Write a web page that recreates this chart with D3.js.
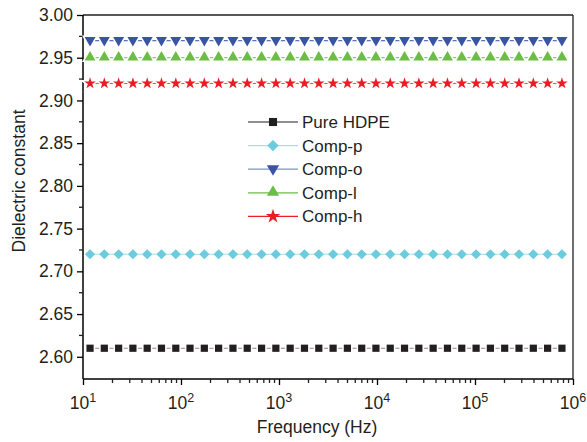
<!DOCTYPE html>
<html>
<head>
<meta charset="utf-8">
<script src="https://cdn.jsdelivr.net/npm/d3@7"></script>
<style>
  body { margin: 0; background: #fff; }
  text { font-family: "Liberation Sans", Arial, sans-serif; fill: #231f20; }
</style>
</head>
<body>
<svg id="chart" width="587" height="442"></svg>
<script>
// frequencies (Hz) of the measured points
let freq = [11.8, 16.5, 23.1, 32.3, 45.2, 63.2, 88.5, 123.6, 173, 242, 339, 474, 664, 929,
    1300, 1820, 2547, 3565, 4989, 6982, 9750, 13650, 19100, 26730, 37410, 52360, 73280,
    102600, 143500, 200900, 281200, 393600, 550800, 771000];

// dielectric constant for each sample (flat across frequency)
let hdpe  = [2.61, 2.61, 2.61, 2.61, 2.61, 2.61, 2.61, 2.61, 2.61, 2.61, 2.61, 2.61, 2.61, 2.61, 2.61, 2.61, 2.61,
             2.61, 2.61, 2.61, 2.61, 2.61, 2.61, 2.61, 2.61, 2.61, 2.61, 2.61, 2.61, 2.61, 2.61, 2.61, 2.61, 2.61];
let compP = [2.72, 2.72, 2.72, 2.72, 2.72, 2.72, 2.72, 2.72, 2.72, 2.72, 2.72, 2.72, 2.72, 2.72, 2.72, 2.72, 2.72,
             2.72, 2.72, 2.72, 2.72, 2.72, 2.72, 2.72, 2.72, 2.72, 2.72, 2.72, 2.72, 2.72, 2.72, 2.72, 2.72, 2.72];
let compO = [2.97, 2.97, 2.97, 2.97, 2.97, 2.97, 2.97, 2.97, 2.97, 2.97, 2.97, 2.97, 2.97, 2.97, 2.97, 2.97, 2.97,
             2.97, 2.97, 2.97, 2.97, 2.97, 2.97, 2.97, 2.97, 2.97, 2.97, 2.97, 2.97, 2.97, 2.97, 2.97, 2.97, 2.97];
let compL = [2.95, 2.95, 2.95, 2.95, 2.95, 2.95, 2.95, 2.95, 2.95, 2.95, 2.95, 2.95, 2.95, 2.95, 2.95, 2.95, 2.95,
             2.95, 2.95, 2.95, 2.95, 2.95, 2.95, 2.95, 2.95, 2.95, 2.95, 2.95, 2.95, 2.95, 2.95, 2.95, 2.95, 2.95];
let compH = [2.92, 2.92, 2.92, 2.92, 2.92, 2.92, 2.92, 2.92, 2.92, 2.92, 2.92, 2.92, 2.92, 2.92, 2.92, 2.92, 2.92,
             2.92, 2.92, 2.92, 2.92, 2.92, 2.92, 2.92, 2.92, 2.92, 2.92, 2.92, 2.92, 2.92, 2.92, 2.92, 2.92, 2.92];

let names = ["Pure HDPE", "Comp-p", "Comp-o", "Comp-l", "Comp-h"];
let yTicks = [2.60, 2.65, 2.70, 2.75, 2.80, 2.85, 2.90, 2.95, 3.00];
let yMinor = [2.625, 2.675, 2.725, 2.775, 2.825, 2.875, 2.925, 2.975];
let xTicks = [1e1, 1e2, 1e3, 1e4, 1e5, 1e6];

// styles per series: marker colour, plot line colour, legend line colour
let series = [
    {name: names[0], vals: hdpe,  fill: "#231f20", line: "#8a8a8a", legLine: "#231f20", shape: "square", gap: true},
    {name: names[1], vals: compP, fill: "#6ccbdc", line: "#a6dee9", legLine: "#a6dee9", shape: "diamond", gap: false},
    {name: names[2], vals: compO, fill: "#3a54a4", line: "#5b70b5", legLine: "#7f90c8", shape: "down", gap: true},
    {name: names[3], vals: compL, fill: "#6cbd45", line: "#85c766", legLine: "#6cbd45", shape: "up", gap: true},
    {name: names[4], vals: compH, fill: "#ed1c24", line: "#ef4a4f", legLine: "#ed1c24", shape: "star", gap: true}
];

let margin = {top: 15, right: 14, bottom: 63, left: 83};
let W = 587, H = 442;
let svg = d3.select("#chart");

let x = d3.scaleLog().domain([10, 1e6]).range([margin.left, W - margin.right]);
let y = d3.scaleLinear().domain([2.574, 3.0]).range([H - margin.bottom, margin.top]);

function symbolPath(shape) {
    if (shape == "square") return d3.symbol(d3.symbolSquare, 52)();
    if (shape == "diamond") return d3.symbol(d3.symbolSquare, 52)();
    if (shape == "up" || shape == "down") return d3.symbol(d3.symbolTriangle, 52)();
    return d3.symbol(d3.symbolStar, 42)();
}
function symbolTransform(shape, px, py) {
    if (shape == "diamond") return "translate(" + px + "," + py + ") rotate(45)";
    if (shape == "down") return "translate(" + px + "," + (py - 0.5) + ") rotate(180)";
    if (shape == "up") return "translate(" + px + "," + (py - 0.5) + ")";
    return "translate(" + px + "," + py + ")";
}

// frame (top and right)
svg.append("line").attr("x1", margin.left).attr("x2", W - margin.right)
    .attr("y1", margin.top).attr("y2", margin.top).attr("stroke", "#231f20").attr("stroke-width", 1.3);
svg.append("line").attr("x1", W - margin.right).attr("x2", W - margin.right)
    .attr("y1", margin.top).attr("y2", H - margin.bottom).attr("stroke", "#231f20").attr("stroke-width", 1.3);

// y axis
let yAxis = svg.append("g").attr("transform", "translate(" + margin.left + ",0)")
    .call(d3.axisLeft(y).tickValues(yTicks).tickFormat(d3.format(".2f")).tickSize(6).tickPadding(4));
yAxis.select(".domain").attr("stroke-width", 1.5).attr("d", "M0," + margin.top + "V" + (H - margin.bottom));
yAxis.selectAll(".tick line").attr("stroke-width", 1.3);
yAxis.selectAll(".tick text").style("font-size", "17.5px").style("font-family", "Liberation Sans, Arial, sans-serif").attr("fill", "#231f20");
yAxis.selectAll(".minor").data(yMinor).enter().append("line")
    .attr("x1", 0).attr("x2", -4).attr("y1", d => y(d)).attr("y2", d => y(d))
    .attr("stroke", "#231f20").attr("stroke-width", 1.3);

// x axis
let xMinor = [];
for (let e = 1; e < 6; e++) for (let k = 2; k < 10; k++) xMinor.push(k * Math.pow(10, e));
let xAxis = svg.append("g").attr("transform", "translate(0," + (H - margin.bottom) + ")")
    .call(d3.axisBottom(x).tickValues(xTicks).tickFormat("").tickSize(6));
xAxis.select(".domain").attr("stroke-width", 1.5).attr("d", "M" + margin.left + ",0H" + (W - margin.right));
xAxis.selectAll(".tick line").attr("stroke-width", 1.3);
xAxis.selectAll(".minor").data(xMinor).enter().append("line")
    .attr("x1", d => x(d)).attr("x2", d => x(d)).attr("y1", 0).attr("y2", 4)
    .attr("stroke", "#231f20").attr("stroke-width", 1.3);
let xLab = xAxis.selectAll(".xl").data(xTicks).enter().append("text")
    .attr("x", d => x(d)).attr("y", 30).attr("text-anchor", "middle")
    .style("font-size", "17.5px");
xLab.append("tspan").text("10");
xLab.append("tspan").text(d => Math.round(Math.log10(d))).attr("dy", -7).style("font-size", "12.5px");

// axis titles
svg.append("text").attr("x", 317).attr("y", 433).attr("text-anchor", "middle")
    .style("font-size", "17.5px").text("Frequency (Hz)");
svg.append("text").attr("transform", "translate(25,181) rotate(-90)").attr("text-anchor", "middle")
    .style("font-size", "17.5px").text("Dielectric constant");

// series
let line = d3.line().x((d, i) => x(freq[i])).y(d => y(d));
series.forEach(s => {
    let g = svg.append("g");
    g.append("path").attr("d", line(s.vals)).attr("fill", "none")
        .attr("stroke", s.line).attr("stroke-width", 1.2);
    g.selectAll("path.m").data(s.vals).enter().append("path")
        .attr("class", "m")
        .attr("d", symbolPath(s.shape))
        .attr("transform", (d, i) => symbolTransform(s.shape, x(freq[i]), y(d)))
        .attr("fill", s.fill)
        .attr("stroke", s.gap ? "#fff" : "none")
        .attr("stroke-width", s.gap ? 3 : 0)
        .attr("paint-order", "stroke");
});

// legend
let leg = svg.append("g").attr("transform", "translate(248,122)");
series.forEach((s, i) => {
    let row = leg.append("g").attr("transform", "translate(0," + (i * 23.6) + ")");
    row.append("line").attr("x1", 0).attr("x2", 50).attr("y1", 0).attr("y2", 0)
        .attr("stroke", s.legLine).attr("stroke-width", 1.2);
    row.append("path").attr("d", symbolPath(s.shape))
        .attr("transform", symbolTransform(s.shape, 25, 0) + (s.shape == "star" ? " scale(1.25)" : " scale(1.12)"))
        .attr("fill", s.fill);
    row.append("text").attr("x", 54).attr("y", 6).style("font-size", "17px").text(s.name);
});
</script>
</body>
</html>
